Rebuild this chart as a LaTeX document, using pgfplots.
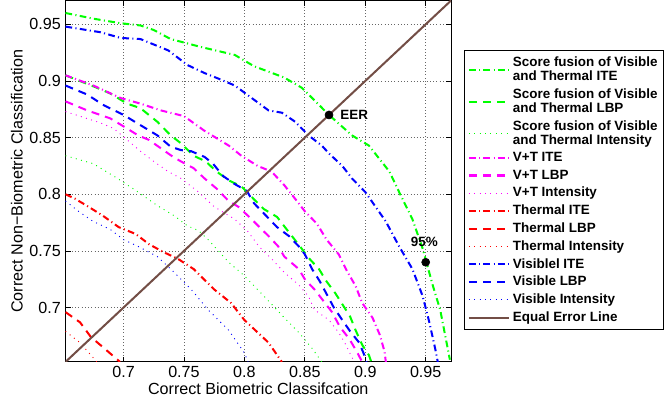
\documentclass[border=0pt]{standalone}
\usepackage{fontspec}
\setmainfont{Liberation Sans}
\usepackage{pgfplots}
\pgfplotsset{compat=1.18}
\definecolor{eel}{RGB}{115,78,70}
\definecolor{mgreen}{RGB}{0,255,0}
\definecolor{mblue}{RGB}{0,0,255}
\definecolor{mmag}{RGB}{255,0,255}
\definecolor{mred}{RGB}{255,0,0}

\tikzset{
  ite/.style={line width=1.5pt, dash pattern=on 5pt off 2.5pt on 0.8pt off 2.5pt},
  lbp/.style={line width=1.5pt, dash pattern=on 6pt off 4.5pt},
  inty/.style={line width=0.7pt, dash pattern=on 0.7pt off 3.3pt},
}

\begin{document}
\begin{tikzpicture}
\begin{axis}[
    scale only axis,
    width=287pt, height=269pt,
    xmin=0.652, xmax=0.971, ymin=0.652, ymax=0.971,
    xtick={0.7,0.75,0.8,0.85,0.9,0.95},
    ytick={0.7,0.75,0.8,0.85,0.9,0.95},
    /pgf/number format/assume math mode=true,
    /pgf/number format/fixed,
    /pgf/number format/precision=2,
    tick label style={font=\fontsize{12}{14}\selectfont},
    label style={font=\fontsize{12}{14}\selectfont},
    xlabel={Correct Biometric Classifcation},
    ylabel={Correct Non−Biometric Classification},
    xlabel style={yshift=3pt},
    ylabel style={yshift=-2pt},
    grid=major,
    grid style={black!60, dotted, line width=0.5pt},
    axis line style={line width=0.8pt},
    major tick length=4pt,
    tick style={black, line width=0.5pt},
    legend cell align=left,
    legend style={at={(1.034,0.862)}, anchor=north west,
        font=\fontsize{10}{10.5}\selectfont\bfseries,
        cells={align=left}, draw=black, line width=0.6pt,
        inner sep=2.5pt, row sep=0.5pt},
    legend image code/.code={\draw[#1] (0pt,0pt) -- (30pt,0pt);},
]
% Score fusion ITE
\addplot[mgreen, ite] coordinates {
(0.652,0.960) (0.675,0.955) (0.6975,0.951) (0.714,0.949) (0.725,0.945) (0.739,0.937)
(0.764,0.930) (0.792,0.923) (0.808,0.913) (0.833,0.903) (0.8475,0.894) (0.856,0.885)
(0.870,0.870) (0.889,0.852) (0.903,0.843) (0.920,0.820) (0.928,0.802) (0.939,0.778)
(0.9475,0.752) (0.956,0.719) (0.962,0.698) (0.970,0.654)
};
% Score fusion LBP
\addplot[mgreen, lbp] coordinates {
(0.652,0.905) (0.678,0.894) (0.689,0.889) (0.703,0.880) (0.714,0.876) (0.728,0.864)
(0.739,0.852) (0.7475,0.845) (0.758,0.834) (0.768,0.829) (0.777,0.820) (0.7875,0.812)
(0.7975,0.807) (0.8075,0.796) (0.816,0.787) (0.827,0.780) (0.835,0.769) (0.846,0.754)
(0.853,0.744) (0.8617,0.734) (0.868,0.723) (0.875,0.713) (0.881,0.703) (0.8875,0.692)
(0.892,0.680) (0.8975,0.667) (0.903,0.658) (0.905,0.652)
};
% Score fusion Intensity
\addplot[mgreen, inty] coordinates {
(0.652,0.834) (0.675,0.827) (0.695,0.814) (0.712,0.802) (0.728,0.790) (0.742,0.781)
(0.753,0.772) (0.762,0.768) (0.770,0.760) (0.787,0.740) (0.800,0.728) (0.8225,0.703)
(0.833,0.691) (0.845,0.678) (0.856,0.664) (0.864,0.652)
};
% V+T ITE
\addplot[mmag, ite] coordinates {
(0.652,0.905) (0.675,0.896) (0.6975,0.885) (0.714,0.880) (0.731,0.874) (0.750,0.869)
(0.767,0.856) (0.787,0.843) (0.7975,0.834) (0.811,0.825) (0.8225,0.820) (0.833,0.808)
(0.842,0.796) (0.850,0.785) (0.860,0.774) (0.868,0.760) (0.878,0.747) (0.885,0.732)
(0.892,0.719) (0.8975,0.704) (0.906,0.691) (0.912,0.676) (0.916,0.661) (0.917,0.652)
};
% V+T LBP
\addplot[mmag, lbp] coordinates {
(0.652,0.882) (0.670,0.874) (0.689,0.867) (0.703,0.858) (0.712,0.852) (0.721,0.848)
(0.741,0.833) (0.7475,0.829) (0.758,0.823) (0.767,0.814) (0.777,0.805) (0.787,0.794)
(0.795,0.789) (0.804,0.780) (0.8125,0.771) (0.821,0.762) (0.828,0.754) (0.833,0.745)
(0.845,0.734) (0.850,0.725) (0.858,0.716) (0.866,0.705) (0.8725,0.696) (0.879,0.683)
(0.887,0.672) (0.893,0.661) (0.8975,0.652)
};
% V+T Intensity
\addplot[mmag, inty] coordinates {
(0.652,0.873) (0.681,0.863) (0.692,0.858) (0.714,0.838) (0.725,0.829) (0.737,0.820)
(0.7475,0.814) (0.762,0.802) (0.775,0.789) (0.792,0.778) (0.803,0.767) (0.812,0.754)
(0.8225,0.743) (0.833,0.731) (0.845,0.720) (0.853,0.710) (0.858,0.698) (0.870,0.689)
(0.878,0.678) (0.883,0.669) (0.889,0.656) (0.891,0.652)
};
% Thermal ITE
\addplot[mred, ite] coordinates {
(0.652,0.800) (0.660,0.796) (0.671,0.789) (0.683,0.781) (0.696,0.771) (0.710,0.765)
(0.721,0.756) (0.733,0.749) (0.745,0.743) (0.758,0.734) (0.775,0.716) (0.789,0.704)
(0.800,0.689) (0.820,0.669) (0.831,0.652)
};
% Thermal LBP
\addplot[mred, lbp] coordinates {
(0.652,0.696) (0.664,0.687) (0.673,0.674) (0.683,0.665) (0.695,0.654) (0.697,0.652)
};
% Thermal Intensity
\addplot[mred, inty] coordinates {
(0.652,0.679) (0.664,0.669) (0.678,0.652)
};
% Visible ITE
\addplot[mblue, ite] coordinates {
(0.652,0.948) (0.681,0.943) (0.6975,0.938) (0.714,0.937) (0.737,0.927) (0.753,0.914)
(0.767,0.907) (0.781,0.901) (0.792,0.896) (0.806,0.885) (0.820,0.874) (0.831,0.872)
(0.842,0.864) (0.853,0.852) (0.864,0.843) (0.870,0.836) (0.881,0.825) (0.889,0.814)
(0.900,0.802) (0.917,0.776) (0.928,0.754) (0.939,0.734) (0.9475,0.710) (0.953,0.687)
(0.958,0.663) (0.960,0.652)
};
% Visible LBP
\addplot[mblue, lbp] coordinates {
(0.652,0.896) (0.670,0.888) (0.683,0.879) (0.700,0.870) (0.714,0.861) (0.728,0.852)
(0.739,0.842) (0.7475,0.839) (0.756,0.838) (0.767,0.833) (0.774,0.827) (0.7825,0.816)
(0.792,0.809) (0.802,0.803) (0.808,0.792) (0.818,0.781) (0.827,0.771) (0.837,0.763)
(0.845,0.754) (0.850,0.747) (0.856,0.734) (0.8625,0.723) (0.868,0.712) (0.874,0.700)
(0.881,0.689) (0.8875,0.679) (0.895,0.669) (0.900,0.656) (0.901,0.652)
};
% Visible Intensity
\addplot[mblue, inty] coordinates {
(0.652,0.794) (0.664,0.784) (0.675,0.776) (0.689,0.769) (0.700,0.760) (0.712,0.754)
(0.728,0.745) (0.742,0.731) (0.756,0.716) (0.770,0.698) (0.787,0.680) (0.800,0.660)
(0.803,0.652)
};
% Equal Error Line
\addplot[eel, line width=1.5pt] coordinates {(0.652,0.652) (0.971,0.971)};
% markers
\addplot[only marks, mark=*, mark size=3pt, black, forget plot] coordinates {(0.87,0.87)}
  node[right=5pt, font=\fontsize{10}{12}\selectfont\bfseries] {EER};
\addplot[only marks, mark=*, mark size=3pt, black, forget plot] coordinates {(0.95,0.740)}
  node[above=8pt, xshift=-1pt, font=\fontsize{10}{12}\selectfont\bfseries] {95\%};
\legend{{Score fusion of Visible\\and Thermal ITE},
        {Score fusion of Visible\\and Thermal LBP},
        {Score fusion of Visible\\and Thermal Intensity},
        {V+T ITE}, {V+T LBP}, {V+T Intensity},
        {Thermal ITE}, {Thermal LBP}, {Thermal Intensity},
        {Visiblel ITE}, {Visible LBP}, {Visible Intensity},
        {Equal Error Line}}
\end{axis}
\path ([xshift=-48.75pt]current axis.south west);
\end{tikzpicture}
\end{document}
